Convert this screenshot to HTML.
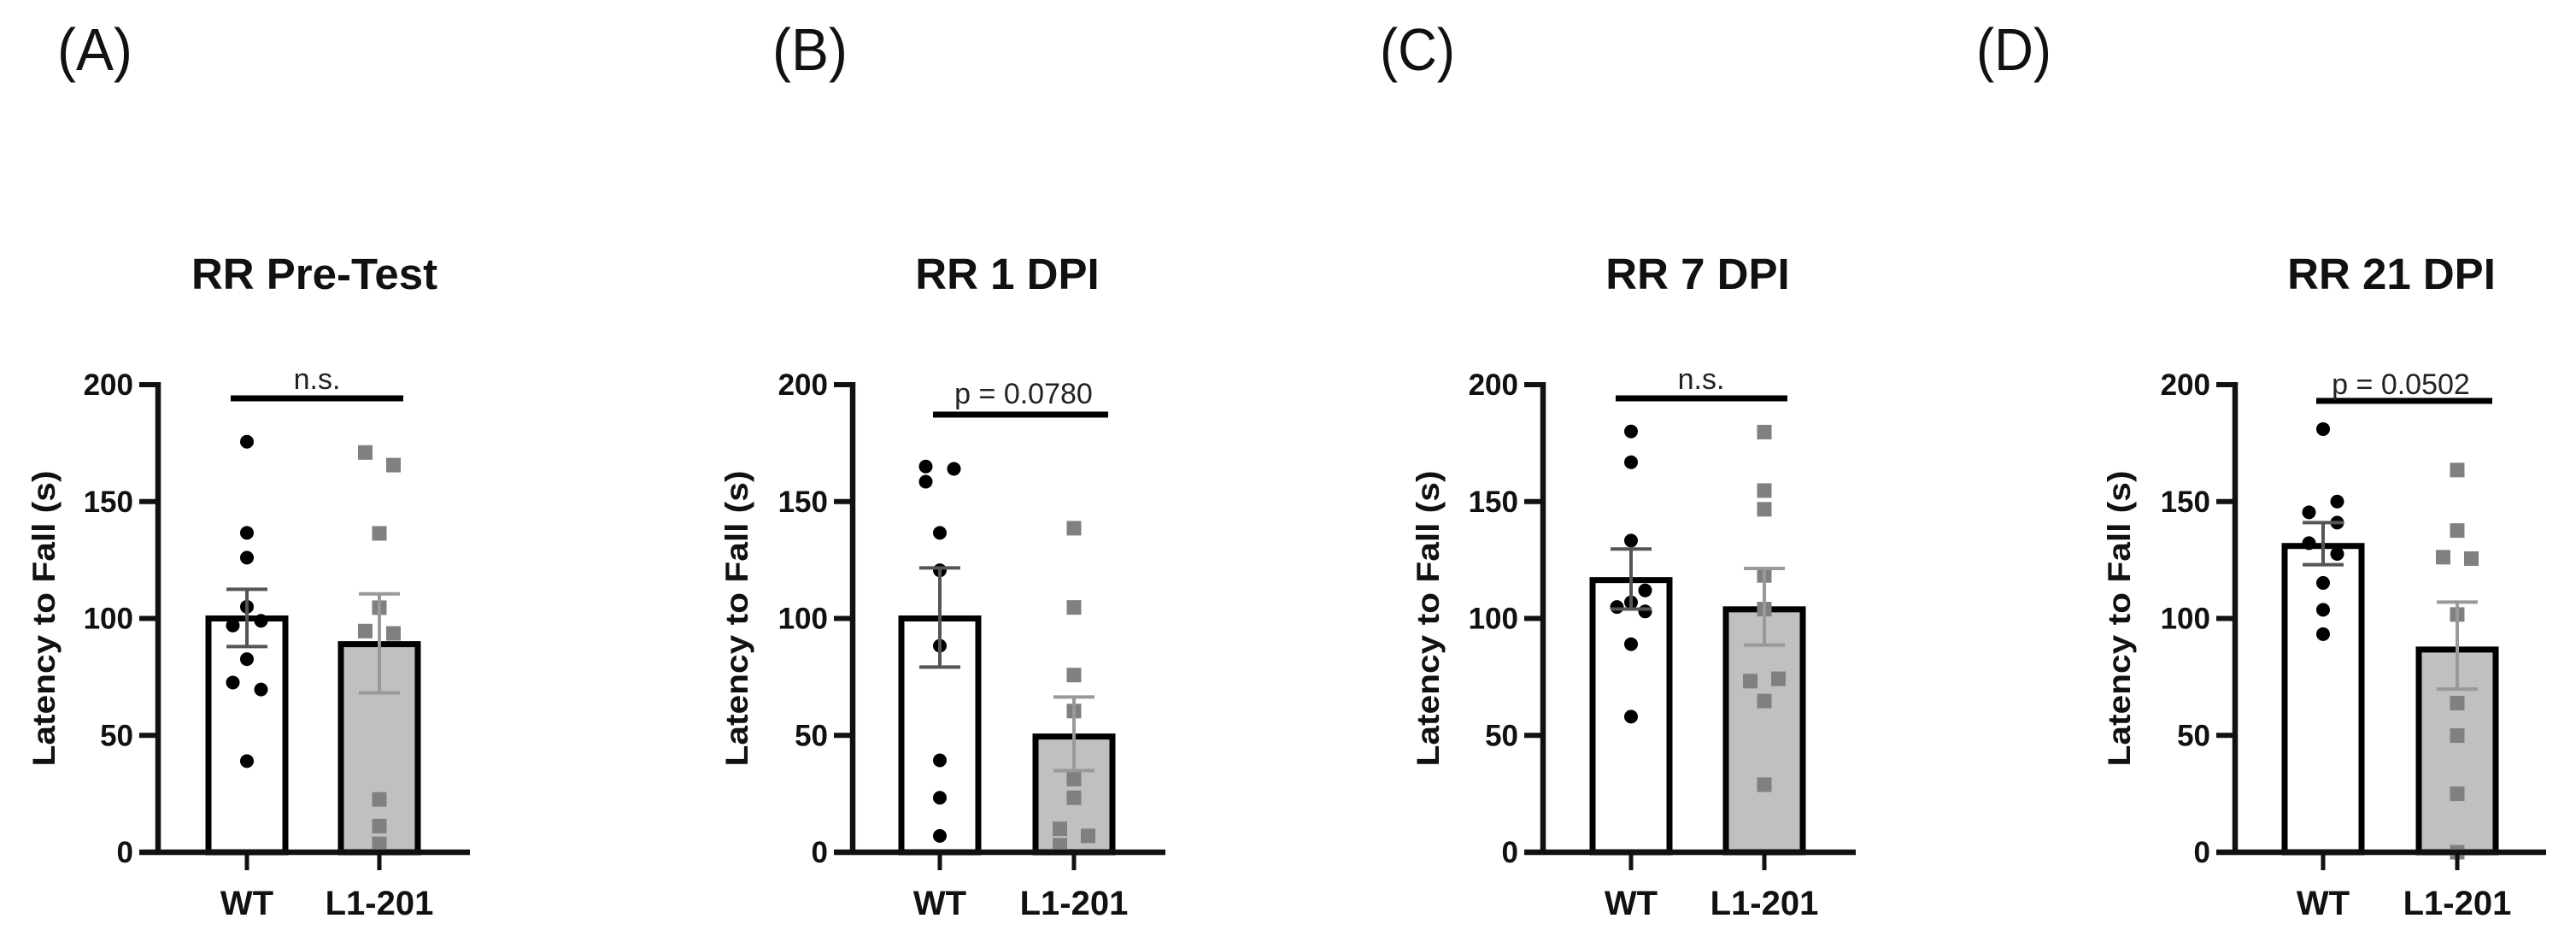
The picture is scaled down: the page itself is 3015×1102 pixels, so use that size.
<!DOCTYPE html>
<html><head><meta charset="utf-8"><style>
html,body{margin:0;padding:0;background:#fff;}
svg{display:block;font-family:"Liberation Sans",Arial,sans-serif;}
</style></head><body>
<svg id="fig" width="3015" height="1102" viewBox="0 0 3015 1102" xmlns="http://www.w3.org/2000/svg"></svg>
<script>
const panelLetters = ["(A)","(B)","(C)","(D)"];
const panelTitles = ["RR Pre-Test","RR 1 DPI","RR 7 DPI","RR 21 DPI"];
const sigLabels = ["n.s.","p = 0.0780","n.s.","p = 0.0502"];
const categories = ["WT","L1-201"];
const yTicks = [0,50,100,150,200];
const wtMeans = [100,100,116.4,131];
const wtSemHi = [112.5,121.6,129.7,141];
const wtSemLo = [88,79.2,104,123];
const l1Means = [89,49.5,103.9,86.7];
const l1SemHi = [110.5,66.4,121.4,107];
const l1SemLo = [68.2,34.9,88.6,69.8];
const wtPointsA = [[175.6,0],[136.6,0],[126,0],[105,0],[99,1],[97,-1],[82.6,0],[72.6,-1],[69.6,1],[39,0]];
const wtPointsB = [[165,-1],[158.5,-1],[164,1],[136.6,0],[120.6,0],[88.3,0],[39.3,0],[23.3,0],[7,0]];
const wtPointsC = [[180,0],[166.8,0],[133.3,0],[112,1],[106.9,0],[104.9,-1],[103,1],[89,0],[58,0]];
const wtPointsD = [[181,0],[145.4,-1],[150,1],[141,1],[132.2,-1],[127.6,1],[115.2,0],[103.7,0],[93.3,0]];
const l1PointsA = [[171,-1],[165.6,1],[136.4,0],[104.6,0],[94.6,-1],[93.6,1],[22.6,0],[11.2,0],[3.6,0]];
const l1PointsB = [[138.6,0],[104.7,0],[75.8,0],[60.4,0],[31.3,0],[23.3,0],[10,-1],[7,1],[3,-1]];
const l1PointsC = [[179.7,0],[154.7,0],[146.7,0],[118.4,0],[104,0],[73.2,-1],[74.2,1],[64.7,0],[28.9,0]];
const l1PointsD = [[163.5,0],[137.6,0],[126.2,-1],[125.6,1],[101.7,0],[63.8,0],[49.9,0],[25,0],[0,0]];
const wtPoints = [wtPointsA,wtPointsB,wtPointsC,wtPointsD];
const l1Points = [l1PointsA,l1PointsB,l1PointsC,l1PointsD];

const NS="http://www.w3.org/2000/svg";
const svg=document.getElementById('fig');
function mk(tag,attrs,parent){const e=document.createElementNS(NS,tag);for(const k in attrs)e.setAttribute(k,attrs[k]);(parent||svg).appendChild(e);return e;}
const Y0=997, PXU=2.735;
function y(v){return Y0-v*PXU;}
// layout per panel
const axisX=[185,998,1806,2616];
const letterX=[67,904,1615,2313];
const wtX=[289,1100,1909,2719];
const l1X=[444,1257,2065,2876];
const axisEnd=[550,1364,2172,2980];
const titleX=[368,1179,1987,2799];
const ylabX=[51,862,1671,2480];
const sigX1=[270,1092,1891,2711], sigX2=[472,1297,2092,2917];
const sigY=[466,485,466,469];
const sigTextY=[455,472,455,461];
const sigTextX=[371,1198,1991,2810];
const BW=97, OFF=16.5;

for(let p=0;p<4;p++){
  const g=mk('g',{});
  
  
  let t=mk('text',{x:letterX[p],y:82,'font-size':70,textLength:88,lengthAdjust:'spacingAndGlyphs',fill:'#111'},g);
  t.textContent=panelLetters[p];
  
  
  t=mk('text',{x:titleX[p],y:338,'font-size':51,'font-weight':'bold','text-anchor':'middle',fill:'#111'},g);
  t.textContent=panelTitles[p];
  
  
  t=mk('text',{x:0,y:0,'font-size':37,'font-weight':'bold','text-anchor':'middle',fill:'#111',textLength:346,lengthAdjust:'spacingAndGlyphs',transform:`translate(${ylabX[p]+13},${y(100)}) rotate(-90)`},g);
  t.textContent="Latency to Fall (s)";
  
  
  const ax=axisX[p];
  // bars
  const bars=[[wtX[p],wtMeans[p],'#ffffff'],[l1X[p],l1Means[p],'#c0c0c0']];
  bars.forEach((b,i)=>{
    const r=mk('rect',{x:b[0]-BW/2+3.5,y:y(b[1]),width:BW-7,height:Y0-y(b[1]),fill:b[2],stroke:'#000','stroke-width':7},g);
    
    
  });
  // points
  wtPoints[p].forEach(pt=>{
    const c=mk('circle',{cx:wtX[p]+pt[1]*OFF,cy:y(pt[0]),r:8,fill:'#000'},g);
    
    
  });
  l1Points[p].forEach(pt=>{
    const c=mk('rect',{x:l1X[p]+pt[1]*OFF-8.5,y:y(pt[0])-8.5,width:17,height:17,fill:'#808080'},g);
    
    
  });
  // error bars
  const errs=[[wtX[p],wtSemHi[p],wtSemLo[p],'#555'],[l1X[p],l1SemHi[p],l1SemLo[p],'#999']];
  errs.forEach((e,i)=>{
    const eg=mk('g',{stroke:e[3],'stroke-width':4},g);
    
    
    mk('line',{x1:e[0],x2:e[0],y1:y(e[1]),y2:y(e[2])},eg);
    mk('line',{x1:e[0]-24,x2:e[0]+24,y1:y(e[1]),y2:y(e[1])},eg);
    mk('line',{x1:e[0]-24,x2:e[0]+24,y1:y(e[2]),y2:y(e[2])},eg);
  });
  // axes
  let l=mk('line',{x1:ax,x2:ax,y1:y(200)-3,y2:Y0+3,stroke:'#111','stroke-width':6.5},g);
  
  
  l=mk('line',{x1:ax-22,x2:axisEnd[p],y1:Y0,y2:Y0,stroke:'#111','stroke-width':6.5},g);
  
  
  yTicks.forEach(v=>{
    mk('line',{x1:ax-22,x2:ax,y1:y(v),y2:y(v),stroke:'#111','stroke-width':6},g);
    const tt=mk('text',{x:ax-29,y:y(v)+12,'font-size':35,'font-weight':'bold','text-anchor':'end',fill:'#111'},g);
    tt.textContent=String(v);
    
    
  });
  [wtX[p],l1X[p]].forEach((cx,i)=>{
    mk('line',{x1:cx,x2:cx,y1:Y0,y2:Y0+21,stroke:'#111','stroke-width':5},g);
    const tt=mk('text',{x:cx,y:1070,'font-size':40,'font-weight':'bold','text-anchor':'middle',fill:'#111'},g);
    tt.textContent=categories[i];
    
    
  });
  // significance
  l=mk('line',{x1:sigX1[p],x2:sigX2[p],y1:sigY[p],y2:sigY[p],stroke:'#000','stroke-width':7},g);
  
  
  t=mk('text',{x:sigTextX[p],y:sigTextY[p],'font-size':34,'text-anchor':'middle',fill:'#222'},g);
  t.textContent=sigLabels[p];
  
  
}
</script>
</body></html>
